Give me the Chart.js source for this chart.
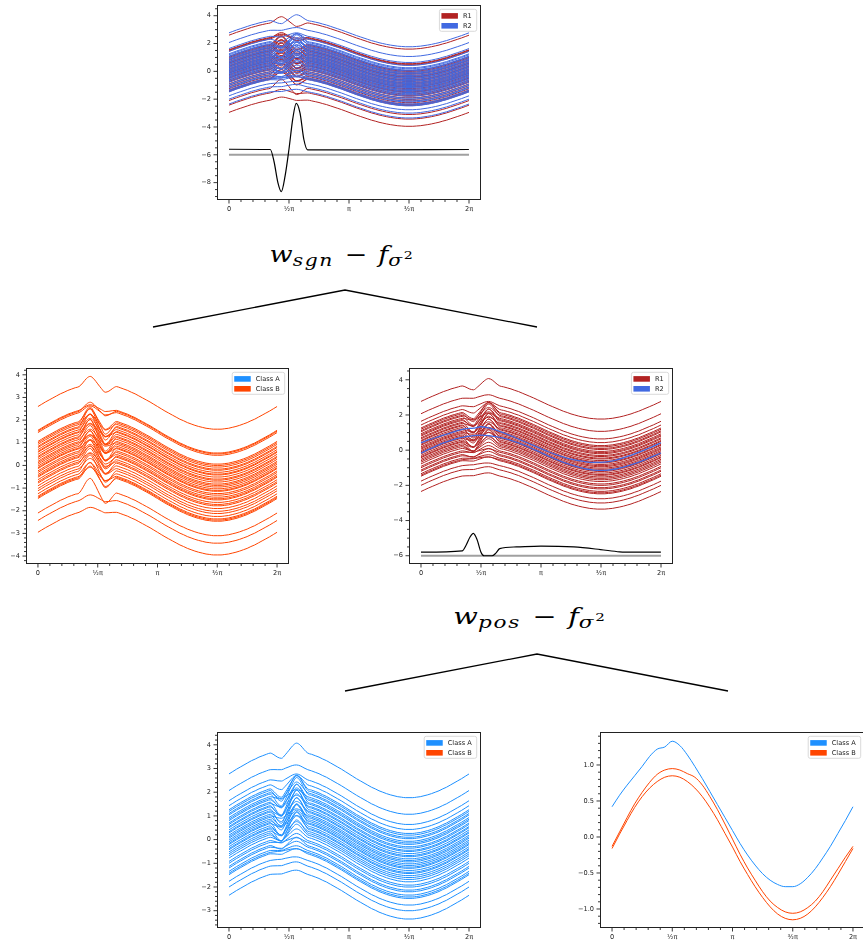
<!DOCTYPE html>
<html>
<head>
<meta charset="utf-8">
<script src="https://cdn.jsdelivr.net/npm/chart.js@4.4.1/dist/chart.umd.min.js"></script>
<style>
html, body { margin: 0; padding: 0; background: #fff; }
body { width: 863px; height: 951px; overflow: hidden; position: relative; }
.plot { position: absolute; }
.plot canvas { display: block; }
.math { position: absolute; font-family: 'DejaVu Serif', serif; font-style: italic; font-size: 22px; line-height: 22px; white-space: nowrap; transform: translateX(-50%); transform-origin: 50% 50%; color: #000; }
.math .sb { position: relative; top: 0.22em; font-size: 0.75em; letter-spacing: 0.08em; }
.math .sp { position: relative; top: -0.55em; font-size: 0.7em; font-style: normal; }
.math .op { font-style: normal; margin: 0 0.4em; }
</style>
</head>
<body>
<svg width="863" height="951" style="position:absolute;left:0;top:0">
  <polyline points="153,327 345,290 537,327" fill="none" stroke="#000" stroke-width="1.3"/>
  <polyline points="345,691 537,654 728,691" fill="none" stroke="#000" stroke-width="1.3"/>
</svg>
<div class="math" data-w="145" style="left:342px;top:244px"><i>w</i><span class="sb">sgn</span><span class="op">−</span><i>f</i><span class="sb">σ<span class="sp">2</span></span></div>
<div class="math" data-w="153" style="left:530px;top:606px"><i>w</i><span class="sb">pos</span><span class="op">−</span><i>f</i><span class="sb">σ<span class="sp">2</span></span></div>

<script>
// x axis (same on every panel)
var xTickValues = [0, Math.PI / 2, Math.PI, 3 * Math.PI / 2, 2 * Math.PI];
var xTickLabels = ['0', '½π', 'π', '³⁄₂π', '2π'];

// sample grid used by the many thin curves (step pi/32)
var xGrid = [];
for (var k = 0; k <= 64; k++) xGrid.push(k * Math.PI / 32);

// common wave shape (relative to the value at x=0)
var wave = [0, 0.10, 0.20, 0.29, 0.38, 0.47, 0.56, 0.63, 0.71, 0.77, 0.83, 0.88, 0.92, 0.96, 0.98, 1.00, 1.00,
            1.00, 0.98, 0.96, 0.92, 0.88, 0.83, 0.77, 0.71, 0.63, 0.56, 0.47, 0.38, 0.29, 0.20, 0.10, 0,
            -0.10, -0.20, -0.29, -0.38, -0.47, -0.56, -0.63, -0.71, -0.77, -0.83, -0.88, -0.92, -0.96, -0.98, -1.00, -1.00,
            -1.00, -0.98, -0.96, -0.92, -0.88, -0.83, -0.77, -0.71, -0.63, -0.56, -0.47, -0.38, -0.29, -0.20, -0.10, 0];

// wiggle near 1/2 pi (grid points 11..21)
var wiggleStart = 11;
var wiggle = [0, 0.35, 0.8, 1.0, 0.6, 0, -0.6, -1.0, -0.8, -0.35, 0];

// curve set split to the left (R1 on top panel, Class B)
var setLOffsets = [2.60, 1.55, 1.51, 1.45, 1.06, 1.00, 0.93, 0.84, 0.79, 0.70, 0.62, 0.58, 0.49, 0.40, 0.35,
                   0.27, 0.18, 0.12, 0.05, -0.03, -0.10, -0.14, -0.24, -0.31, -0.40, -0.47, -0.52, -0.63, -0.72, -0.78,
                   -0.90, -1.02, -1.12, -1.25, -1.36, -1.41, -1.46, -2.10, -2.43, -2.95];
var setLAmps = [0.35, 0.15, 0.30, 0.20, 0.45, 0.60, 0.35, 0.70, 0.50, 0.40, 0.65, 0.30, 0.55, 0.45, 0.70,
                0.35, 0.60, 0.25, 0.50, 0.40, 0.65, 0.30, 0.55, 0.45, 0.35, 0.60, 0.40, 0.50, 0.30, 0.55,
                0.45, 0.35, 0.60, 0.40, 0.30, 0.55, 0.45, 0.55, 0.15, 0.12];

// curve set split to the right (R2 on top panel, Class A)
var setROffsets = [2.77, 2.07, 1.64, 1.43, 1.26, 1.19, 1.10, 1.04, 0.93, 0.86, 0.80, 0.70, 0.64, 0.55, 0.50,
                   0.41, 0.33, 0.28, 0.19, 0.12, 0.06, -0.02, -0.09, -0.16, -0.21, -0.30, -0.38, -0.43, -0.52, -0.60,
                   -0.68, -0.78, -0.92, -1.00, -1.13, -1.20, -1.34, -1.42, -1.48, -1.76, -2.00, -2.35];
var setRAmps = [-0.32, -0.10, -0.15, -0.30, -0.45, -0.55, -0.35, -0.60, -0.20, -0.50, -0.40, -0.65, -0.25, -0.55, -0.45,
                -0.70, -0.30, -0.50, -0.60, -0.20, -0.45, -0.55, -0.35, -0.65, -0.25, -0.50, -0.40, -0.60, -0.30, -0.45,
                -0.35, -0.25, -0.20, -0.10, -0.25, -0.15, -0.10, -0.05, -0.12, -0.05, -0.08, -0.08];

// black difference curves and the reference line
var topBlackX = [0, 1.08, 1.18, 1.28, 1.37, 1.47, 1.57, 1.67, 1.76, 1.86, 1.96, 2.06, 3.5, 6.28];
var topBlackY = [-5.60, -5.62, -6.50, -8.00, -8.65, -7.50, -5.60, -3.40, -2.30, -3.00, -4.90, -5.65, -5.65, -5.62];
var midBlackX = [0, 1.08, 1.18, 1.28, 1.37, 1.47, 1.57, 1.65, 1.86, 1.96, 2.06, 2.5, 3.14, 4.0, 4.7, 5.2, 5.6, 6.28];
var midBlackY = [-5.80, -5.72, -5.40, -4.95, -4.73, -5.10, -5.80, -6.00, -6.00, -5.85, -5.60, -5.50, -5.45, -5.50, -5.65, -5.78, -5.80, -5.80];
var refLineX = [0, 2 * Math.PI];
var refLineY = [-6, -6];

// class mean curves (step pi/16)
var meanGrid = [];
for (var m = 0; m <= 32; m++) meanGrid.push(m * Math.PI / 16);
var classAMean = [0.42, 0.58, 0.72, 0.85, 0.98, 1.12, 1.22, 1.25, 1.33, 1.27, 1.14, 0.98, 0.81, 0.63, 0.45, 0.27, 0.09,
                  -0.09, -0.25, -0.39, -0.51, -0.60, -0.66, -0.69, -0.69, -0.65, -0.56, -0.44, -0.29, -0.13, 0.05, 0.23, 0.42];
var classBMean1 = [-0.13, 0.07, 0.27, 0.46, 0.62, 0.76, 0.87, 0.93, 0.95, 0.93, 0.88, 0.83, 0.72, 0.56, 0.38, 0.18, -0.03,
                   -0.24, -0.43, -0.60, -0.76, -0.89, -0.98, -1.04, -1.06, -1.04, -0.98, -0.89, -0.76, -0.60, -0.44, -0.28, -0.13];
var classBMean2 = [-0.16, 0.04, 0.23, 0.41, 0.56, 0.68, 0.77, 0.83, 0.85, 0.83, 0.77, 0.68, 0.56, 0.41, 0.24, 0.05, -0.14,
                   -0.34, -0.52, -0.69, -0.84, -0.97, -1.07, -1.13, -1.15, -1.13, -1.07, -0.97, -0.84, -0.69, -0.52, -0.34, -0.16];

// y ticks
var yTicksTop = [-8, -6, -4, -2, 0, 2, 4];
var yTicksMidL = [-4, -3, -2, -1, 0, 1, 2, 3, 4];
var yTicksMidR = [-6, -4, -2, 0, 2, 4];
var yTicksBotL = [-3, -2, -1, 0, 1, 2, 3, 4];
var yTicksBotR = [-1.0, -0.5, 0.0, 0.5, 1.0];
var yLabelsBotR = ['\u22121.0', '\u22120.5', '0.0', '0.5', '1.0'];

var legendR = ['R1', 'R2'];
var legendClass = ['Class A', 'Class B'];

var RED = '#b22222', BLUE = '#4169e1', CLASS_A = '#1e90ff', CLASS_B = '#ff4500';
var FONT = "'DejaVu Sans', sans-serif";

function curveData(offset, amp) {
    var pts = [];
    for (var k = 0; k < wave.length; k++) {
        var b = 0;
        var j = k - wiggleStart;
        if (j >= 0 && j < wiggle.length) b = wiggle[j];
        pts.push({x: xGrid[k], y: offset + wave[k] + amp * b});
    }
    return pts;
}

function pairData(xs, ys) {
    return xs.map(function(x, i) { return {x: x, y: ys[i]}; });
}

function line(data, color, width) {
    return {data: data, borderColor: color, borderWidth: width || 1, pointRadius: 0, fill: false,
            cubicInterpolationMode: 'monotone'};
}

function curveSet(offsets, amps, color) {
    var out = [];
    for (var i = 0; i < offsets.length; i++) out.push(line(curveData(offsets[i], amps[i]), color));
    return out;
}

function minus(v) { return String(v).replace('-', '\u2212'); }

var frameTicks = {
    id: 'frameTicks',
    afterDraw: function(chart, args, opts) {
        var ctx = chart.ctx, ca = chart.chartArea;
        var xs = chart.scales.x, ys = chart.scales.y;
        ctx.save();
        ctx.strokeStyle = '#222';
        ctx.lineWidth = 0.9;
        ctx.beginPath();
        xTickValues.forEach(function(v) {
            var px = xs.getPixelForValue(v);
            ctx.moveTo(px, ca.bottom); ctx.lineTo(px, ca.bottom + 3.5);
        });
        for (var i = 1; i < 21; i++) {
            if (i % 5 == 0) continue;
            var px = xs.getPixelForValue(i * Math.PI / 10);
            ctx.moveTo(px, ca.bottom); ctx.lineTo(px, ca.bottom + 2);
        }
        opts.yTicks.forEach(function(v) {
            var py = ys.getPixelForValue(v);
            ctx.moveTo(ca.left, py); ctx.lineTo(ca.left - 3.5, py);
        });
        var st = opts.minorStep;
        for (var j = Math.ceil(ys.min / st); j * st < ys.max; j++) {
            var v = j * st;
            var major = opts.yTicks.some(function(t) { return Math.abs(t - v) < 1e-6; });
            if (major) continue;
            var py = ys.getPixelForValue(v);
            ctx.moveTo(ca.left, py); ctx.lineTo(ca.left - 2, py);
        }
        ctx.stroke();
        ctx.lineWidth = 1;
        ctx.strokeRect(Math.round(ca.left) + 0.5, Math.round(ca.top) + 0.5,
                       Math.round(ca.right - ca.left) - 1, Math.round(ca.bottom - ca.top) - 1);
        ctx.restore();
    }
};

var mplLegend = {
    id: 'mplLegend',
    afterDraw: function(chart, args, opts) {
        var ctx = chart.ctx, ca = chart.chartArea;
        ctx.save();
        ctx.font = '6.6px ' + FONT;
        var maxW = 0;
        opts.labels.forEach(function(l) { maxW = Math.max(maxW, ctx.measureText(l).width); });
        var w = 23.5 + maxW + 5, h = 22;
        var x0 = ca.right - 4.3 - w, y0 = ca.top + 4.3;
        ctx.beginPath();
        ctx.roundRect(x0, y0, w, h, 2);
        ctx.fillStyle = 'rgba(255,255,255,0.85)';
        ctx.fill();
        ctx.strokeStyle = '#d0d0d0';
        ctx.lineWidth = 0.8;
        ctx.stroke();
        ctx.textBaseline = 'middle';
        opts.labels.forEach(function(l, i) {
            var ry = y0 + 6.6 + i * 9.9;
            ctx.fillStyle = opts.colors[i];
            ctx.fillRect(x0 + 2, ry - 2.8, 16.5, 5.6);
            ctx.fillStyle = '#222';
            ctx.fillText(l, x0 + 23.5, ry + 0.3);
        });
        ctx.restore();
    }
};

function makePlot(box, yMin, yMax, yTicks, yLabels, minorStep, datasets, labels, colors) {
    var yw = 28, xh = 18;
    var wrap = document.createElement('div');
    wrap.className = 'plot';
    wrap.style.left = (box.l - yw) + 'px';
    wrap.style.top = (box.t - 2) + 'px';
    var cv = document.createElement('canvas');
    cv.width = box.r - box.l + yw + 2;
    cv.height = box.b - box.t + xh + 2;
    cv.style.width = cv.width + 'px';
    cv.style.height = cv.height + 'px';
    wrap.appendChild(cv);
    document.body.appendChild(wrap);

    new Chart(cv.getContext('2d'), {
        type: 'line',
        data: {datasets: datasets},
        options: {
            responsive: false,
            animation: false,
            devicePixelRatio: 1,
            parsing: false,
            layout: {padding: {top: 2, right: 2, left: 0, bottom: 0}},
            plugins: {
                legend: {display: false},
                tooltip: {enabled: false},
                frameTicks: {yTicks: yTicks, minorStep: minorStep},
                mplLegend: {labels: labels, colors: colors}
            },
            scales: {
                x: {
                    type: 'linear', min: -0.314, max: 6.597,
                    afterBuildTicks: function(s) { s.ticks = xTickValues.map(function(v) { return {value: v}; }); },
                    afterFit: function(s) { s.height = xh; s.paddingLeft = 0; s.paddingRight = 0; },
                    ticks: {
                        callback: function(v, i) { return xTickLabels[i]; },
                        autoSkip: false, maxRotation: 0, padding: 5,
                        color: '#222', font: {family: FONT, size: 6.6}
                    },
                    grid: {display: false, drawTicks: false},
                    border: {display: false}
                },
                y: {
                    type: 'linear', min: yMin, max: yMax,
                    afterBuildTicks: function(s) { s.ticks = yTicks.map(function(v) { return {value: v}; }); },
                    afterFit: function(s) { s.width = yw; s.paddingTop = 0; s.paddingBottom = 0; },
                    ticks: {
                        callback: function(v, i) { return yLabels ? yLabels[i] : minus(yTicks[i]); },
                        autoSkip: false, padding: 6,
                        color: '#222', font: {family: FONT, size: 6.6}
                    },
                    grid: {display: false, drawTicks: false},
                    border: {display: false}
                }
            }
        },
        plugins: [frameTicks, mplLegend]
    });
}

// top: R2 (blue) drawn over R1 (red)
var topSets = [line(pairData(topBlackX, topBlackY), '#000', 1.2),
               line(pairData(refLineX, refLineY), 'rgba(120,120,120,0.7)', 2)]
    .concat(curveSet(setROffsets, setRAmps, BLUE))
    .concat(curveSet(setLOffsets, setLAmps, RED));
makePlot({l: 217, t: 5, r: 481, b: 200}, -9.25, 4.77, yTicksTop, null, 0.5, topSets, legendR, [RED, BLUE]);

// middle left: class B set
makePlot({l: 26, t: 368, r: 289, b: 564}, -4.35, 4.30, yTicksMidL, null, 0.2,
         curveSet(setLOffsets, setLAmps, CLASS_B), legendClass, [CLASS_A, CLASS_B]);

// middle right: R1 set with the two R2 curves
var midSets = [line(pairData(midBlackX, midBlackY), '#000', 1.2),
               line(pairData(refLineX, refLineY), 'rgba(120,120,120,0.7)', 2),
               line(pairData(meanGrid, classAMean), BLUE, 1.3),
               line(pairData(meanGrid, classBMean2), BLUE, 1.3)]
    .concat(curveSet(setROffsets, setRAmps, RED));
makePlot({l: 409, t: 368, r: 673, b: 564}, -6.47, 4.67, yTicksMidR, null, 0.5, midSets, legendR, [RED, BLUE]);

// bottom left: class A set
makePlot({l: 217, t: 732, r: 481, b: 928}, -3.73, 4.54, yTicksBotL, null, 0.2,
         curveSet(setROffsets, setRAmps, CLASS_A), legendClass, [CLASS_A, CLASS_B]);

// bottom right: class means
makePlot({l: 600, t: 732, r: 865, b: 928}, -1.264, 1.458, yTicksBotR, yLabelsBotR, 0.1,
         [line(pairData(meanGrid, classAMean), CLASS_A),
          line(pairData(meanGrid, classBMean1), CLASS_B),
          line(pairData(meanGrid, classBMean2), CLASS_B)],
         legendClass, [CLASS_A, CLASS_B]);

// stretch the formula labels to the width they have in the figure
var maths = document.querySelectorAll('.math');
for (var q = 0; q < maths.length; q++) {
    var el = maths[q];
    var s = parseFloat(el.getAttribute('data-w')) / el.offsetWidth;
    el.style.transform = 'translateX(-50%) scaleX(' + s.toFixed(3) + ')';
}
</script>
</body>
</html>
